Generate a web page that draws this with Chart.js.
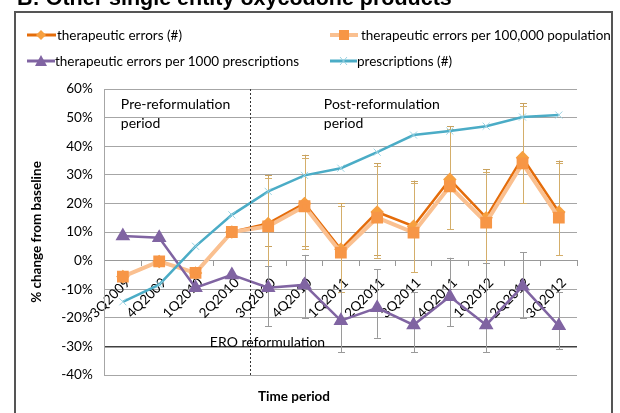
<!DOCTYPE html>
<html><head><meta charset="utf-8">
<script src="https://cdn.jsdelivr.net/npm/chart.js@4.4.1/dist/chart.umd.min.js"></script>
<style>
html,body{margin:0;padding:0;background:#fff;overflow:hidden;}
#wrap{position:relative;width:620px;height:413px;font-family:Lato,"Open Sans",sans-serif;}
canvas{position:absolute;left:0;top:0;}
#frame{position:absolute;left:14px;top:11px;width:599px;height:420px;border:2px solid #555;box-sizing:border-box;pointer-events:none;}
#title{position:absolute;left:17px;top:-12px;font:bold 21.5px "Liberation Sans",Arial,sans-serif;line-height:1;white-space:nowrap;color:#000;}
.lg{position:absolute;font-size:13.5px;color:#000;white-space:nowrap;display:flex;align-items:center;height:18px;}
.lg svg{display:block;}
#xt{position:absolute;left:258px;top:388px;font:bold 13.5px Lato,sans-serif;color:#000;white-space:nowrap;}
</style></head>
<body><div id="wrap">
<canvas id="c" width="620" height="413"></canvas>
<div id="title">B: Other single entity oxycodone products</div>
<div id="frame"></div>
<div class="lg" style="left:27px;top:26px"><svg width="30" height="14"><line x1="0" y1="7" x2="29" y2="7" stroke="#E46C0A" stroke-width="3"/><polygon points="14,2 19,7 14,12 9,7" fill="#F7A040"/></svg><span>therapeutic errors (#)</span></div>
<div class="lg" style="left:330px;top:26px"><svg width="31" height="14"><line x1="0" y1="7" x2="28" y2="7" stroke="#FAC090" stroke-width="4"/><rect x="9" y="2" width="10" height="10" fill="#F79646"/></svg><span>therapeutic errors per 100,000 population</span></div>
<div class="lg" style="left:27px;top:52px"><svg width="28" height="14"><line x1="0" y1="7" x2="28" y2="7" stroke="#8064A2" stroke-width="3"/><polygon points="14,1 20,12 8,12" fill="#8064A2"/></svg><span>therapeutic errors per 1000 prescriptions</span></div>
<div class="lg" style="left:330px;top:52px"><svg width="27" height="14"><line x1="0" y1="7" x2="27" y2="7" stroke="#4BACC6" stroke-width="3"/><path d="M10,3 L17,11 M17,3 L10,11" stroke="#9BD3E3" stroke-width="1"/></svg><span>prescriptions (#)</span></div>
<div id="xt">Time period</div>
</div>
<script>
const categories = ['3Q2009','4Q2009','1Q2010','2Q2010','3Q2010','4Q2010','1Q2011','2Q2011','3Q2011','4Q2011','1Q2012','2Q2012','3Q2012'];
const yTicks = [-40,-30,-20,-10,0,10,20,30,40,50,60];
const errorsCount = [-5.6,-0.3,-4.3,10,13,20,4,17,12,28.4,15,36,17];
const errorsPer100k = [-5.6,-0.3,-4.3,10,12,19,2.8,15,9.8,26,13.3,34,15];
const errorsPer1000Rx = [8.6,8,-9.5,-5,-9.5,-8.5,-21,-16.5,-22.5,-12.6,-22.5,-9,-22.8];
const prescriptions = [-14.4,-8.4,5,16,24.2,29.8,32.3,37.9,43.9,45.3,47,50.2,50.9];
const errCountLow  = [null,null,null,null,5,5,-10,2,-4,11,-1,20,2];
const errCountHigh = [null,null,null,null,30,37,20,34,28,47,32,55,35];
const err100kLow   = [null,null,null,null,-2,4,-11,1,-4,11,-1,20,2];
const err100kHigh  = [null,null,null,null,29,36,19,33,27,46,31,54,34];
const err1000Low   = [null,null,null,null,-23,-20,-32,-27,-32,-23,-32,-20,-31];
const err1000High  = [null,null,null,null,-2,2,-10,-3,-11,1,-1,3,-11];

const errBars = [
  {low: errCountLow, high: errCountHigh, color: '#C9A25E'},
  {low: err100kLow, high: err100kHigh, color: '#D4AE6A'},
  {low: err1000Low, high: err1000High, color: '#9A9A9A'}
];

const overlay = {
  id: 'overlay',
  beforeDatasetsDraw(chart) {
    const ctx = chart.ctx, x = chart.scales.x, y = chart.scales.y;
    ctx.save();
    ctx.lineWidth = 1;
    errBars.forEach(b => {
      ctx.strokeStyle = b.color;
      b.low.forEach((lo, i) => {
        if (lo === null) return;
        const px = Math.round(x.getPixelForValue(i)) + 0.5;
        const y1 = y.getPixelForValue(lo), y2 = y.getPixelForValue(b.high[i]);
        ctx.beginPath();
        ctx.moveTo(px, y1); ctx.lineTo(px, y2);
        ctx.moveTo(px - 3.5, Math.round(y1) + 0.5); ctx.lineTo(px + 3.5, Math.round(y1) + 0.5);
        ctx.moveTo(px - 3.5, Math.round(y2) + 0.5); ctx.lineTo(px + 3.5, Math.round(y2) + 0.5);
        ctx.stroke();
      });
    });
    ctx.restore();
  },
  afterDatasetsDraw(chart) {
    const ctx = chart.ctx, x = chart.scales.x, y = chart.scales.y, a = chart.chartArea;
    const dx = Math.round((x.getPixelForValue(3) + x.getPixelForValue(4)) / 2) + 0.5;
    ctx.save();
    ctx.strokeStyle = '#333';
    ctx.lineWidth = 1;
    ctx.setLineDash([2, 2]);
    ctx.beginPath(); ctx.moveTo(dx, a.top); ctx.lineTo(dx, a.bottom + 2); ctx.stroke();
    ctx.setLineDash([]);
    ctx.fillStyle = '#000';
    ctx.font = '14px Lato, sans-serif';
    ctx.textBaseline = 'middle';
    ctx.textAlign = 'left';
    const lx = x.getPixelForValue(0) - 2;
    ctx.fillText('Pre-reformulation', lx, y.getPixelForValue(54.5));
    ctx.fillText('period', lx, y.getPixelForValue(48));
    const rx = x.getPixelForValue(6) - 17;
    ctx.fillText('Post-reformulation', rx, y.getPixelForValue(54.5));
    ctx.fillText('period', rx, y.getPixelForValue(47.8));
    ctx.textAlign = 'center';
    ctx.fillText('ERO reformulation', dx + 17, y.getPixelForValue(-28.5));
    ctx.restore();
  }
};

new Chart(document.getElementById('c'), {
  type: 'line',
  data: {
    labels: categories,
    datasets: [
      {label: 'therapeutic errors (#)', data: errorsCount, borderColor: '#E46C0A', borderWidth: 2.5,
       pointStyle: 'rectRot', pointRadius: 5, pointBackgroundColor: '#F7A040', pointBorderColor: '#F7A040', order: 4},
      {label: 'therapeutic errors per 100,000 population', data: errorsPer100k, borderColor: '#FAC090', borderWidth: 4,
       pointStyle: 'rect', pointRadius: 5.5, pointBackgroundColor: '#F79646', pointBorderColor: '#F79646', order: 3},
      {label: 'therapeutic errors per 1000 prescriptions', data: errorsPer1000Rx, borderColor: '#8064A2', borderWidth: 2.5,
       pointStyle: 'triangle', pointRadius: 6, pointBackgroundColor: '#8064A2', pointBorderColor: '#8064A2', order: 2},
      {label: 'prescriptions (#)', data: prescriptions, borderColor: '#4BACC6', borderWidth: 2.5,
       pointStyle: 'crossRot', pointRadius: 5, pointBorderColor: '#9BD3E3', pointBorderWidth: 1, order: 1}
    ]
  },
  options: {
    responsive: false,
    animation: false,
    layout: {padding: {left: 29, right: 43, top: 89, bottom: 38}},
    plugins: {legend: {display: false}, tooltip: {enabled: false}},
    scales: {
      x: {
        type: 'category',
        position: {y: 0},
        offset: true,
        grid: {offset: true, drawOnChartArea: false, drawTicks: true, tickLength: 5, color: '#999'},
        border: {display: true, color: '#999'},
        ticks: {minRotation: 45, maxRotation: 45, color: '#000', font: {family: 'Lato', size: 13.5}, padding: 9, labelOffset: 5}
      },
      y: {
        min: -40, max: 60,
        afterBuildTicks(s) { s.ticks = yTicks.map(v => ({value: v})); },
        ticks: {color: '#000', font: {family: 'Lato', size: 13.5}, padding: 12, callback: v => v + '%'},
        grid: {
          drawTicks: false,
          color: c => c.tick && c.tick.value === -30 ? '#404040' : '#A6A6A6',
          lineWidth: c => c.tick && c.tick.value === -30 ? 1.5 : 1
        },
        border: {display: true, color: '#A6A6A6'},
        title: {display: true, text: '% change from baseline', color: '#000', font: {family: 'Lato', size: 13.5, weight: 'bold'}, padding: {top: 0, bottom: 4}}
      }
    }
  },
  plugins: [overlay]
});
</script>
</body></html>
